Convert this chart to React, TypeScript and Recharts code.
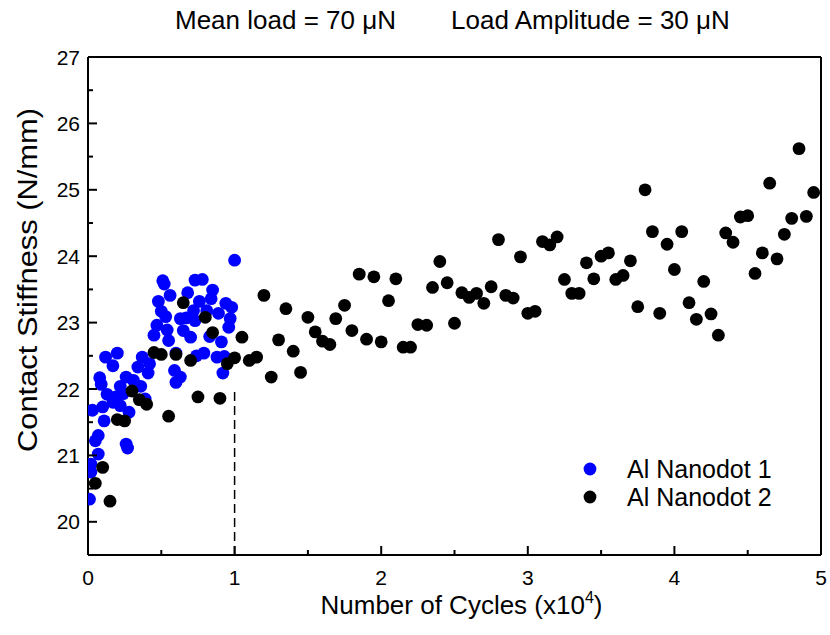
import React from 'react';
import { ScatterChart, Scatter, XAxis, YAxis, ReferenceLine, Legend, Label } from 'recharts';

// ---- Data (x in units of 10^4 cycles, y = contact stiffness N/mm) ----
const nanodot1X = [
  1.00, 0.51, 0.52, 0.73, 0.78, 0.68, 0.56, 0.85, 0.48, 0.76, 0.84, 0.50, 0.53, 0.72, 0.81, 0.89, 0.94, 0.98,
  0.97, 0.96, 0.63, 0.67, 0.73, 0.47, 0.54, 0.65, 0.45, 0.70, 0.83, 0.91, 0.55, 0.60, 0.74, 0.79, 0.88, 0.93,
  0.92, 0.59, 0.63, 0.60, 0.37, 0.42, 0.34, 0.41, 0.12, 0.20, 0.17, 0.08, 0.26, 0.31, 0.22, 0.36, 0.13, 0.19,
  0.24, 0.39, 0.17, 0.03, 0.10, 0.22, 0.28, 0.11, 0.07, 0.05, 0.26, 0.27, 0.07, 0.02, 0.02, 0.01, 0.09,
];
const nanodot1Y = [
  23.94, 23.63, 23.58, 23.64, 23.65, 23.45, 23.41, 23.49, 23.32, 23.32, 23.36, 23.17, 23.09, 23.18, 23.18, 23.14, 23.29, 23.23,
  23.06, 22.93, 23.06, 23.07, 23.03, 22.96, 22.89, 22.88, 22.81, 22.78, 22.79, 22.71, 22.73, 22.54, 22.50, 22.54, 22.48, 22.49,
  22.24, 22.28, 22.18, 22.10, 22.48, 22.38, 22.33, 22.24, 22.48, 22.54, 22.35, 22.17, 22.18, 22.13, 22.04, 22.04, 21.92, 21.88,
  21.93, 21.85, 21.80, 21.68, 21.73, 21.75, 21.65, 21.52, 21.30, 21.22, 21.17, 21.11, 21.02, 20.87, 20.75, 20.34, 22.07,
];

const nanodot2X = [
  0.05, 0.10, 0.15, 0.20, 0.25, 0.30, 0.35, 0.40, 0.45, 0.50, 0.55, 0.60, 0.65, 0.70, 0.75, 0.80, 0.85, 0.90, 0.95,
  1.00, 1.05, 1.10, 1.15, 1.20, 1.25, 1.30, 1.35, 1.40, 1.45, 1.50, 1.55, 1.60, 1.65, 1.69, 1.75, 1.80, 1.85, 1.90, 1.95,
  2.00, 2.05, 2.10, 2.15, 2.20, 2.25, 2.31, 2.35, 2.40, 2.45, 2.50, 2.55, 2.60, 2.65, 2.70, 2.75, 2.80, 2.85, 2.90, 2.95,
  3.00, 3.05, 3.10, 3.15, 3.20, 3.25, 3.30, 3.35, 3.40, 3.45, 3.50, 3.55, 3.60, 3.65, 3.70, 3.75, 3.80, 3.85, 3.90, 3.95,
  4.00, 4.05, 4.10, 4.15, 4.20, 4.25, 4.30, 4.35, 4.40, 4.45, 4.50, 4.55, 4.60, 4.65, 4.70, 4.75, 4.80, 4.85, 4.90, 4.95,
];
const nanodot2Y = [
  20.58, 20.82, 20.31, 21.54, 21.52, 21.97, 21.84, 21.77, 22.55, 22.52, 21.59, 22.52, 23.30, 22.43, 21.88, 23.08, 22.85, 21.86, 22.38,
  22.47, 22.78, 22.43, 22.48, 23.41, 22.18, 22.74, 23.21, 22.57, 22.25, 23.08, 22.86, 22.72, 22.67, 23.06, 23.26, 22.88, 23.73, 22.75, 23.69,
  22.71, 23.33, 23.66, 22.63, 22.63, 22.97, 22.96, 23.53, 23.92, 23.60, 22.99, 23.45, 23.38, 23.44, 23.29, 23.54, 24.25, 23.41, 23.37, 23.99,
  23.14, 23.17, 24.22, 24.17, 24.29, 23.65, 23.44, 23.44, 23.90, 23.66, 24.00, 24.05, 23.65, 23.71, 23.93, 23.24, 25.00, 24.37, 23.14, 24.18,
  23.80, 24.37, 23.30, 23.05, 23.62, 23.13, 22.81, 24.35, 24.21, 24.59, 24.61, 23.74, 24.05, 25.10, 23.96, 24.33, 24.57, 25.62, 24.60, 24.96,
];

const xTicks = [0, 0.5, 1, 1.5, 2, 2.5, 3, 3.5, 4, 4.5, 5];
const yTicks = [20, 20.5, 21, 21.5, 22, 22.5, 23, 23.5, 24, 24.5, 25, 25.5, 26, 26.5, 27];

const series1Name = 'Al Nanodot 1';
const series2Name = 'Al Nanodot 2';
const titleLeft = 'Mean load = 70 μN';
const titleRight = 'Load Amplitude = 30 μN';

const data1 = nanodot1X.map((x, i) => ({ x, y: nanodot1Y[i] }));
const data2 = nanodot2X.map((x, i) => ({ x, y: nanodot2Y[i] }));

const FONT = '"Liberation Sans", Arial, Helvetica, sans-serif';
const BLUE = '#0000FF';
const BLACK = '#000000';

const XTick = (props: any) => {
  const { x, y, payload } = props;
  const v = payload.value;
  const major = Number.isInteger(v);
  return (
    <g>
      <line x1={x} x2={x} y1={y} y2={y - (major ? 9 : 5)} stroke={BLACK} strokeWidth={2} />
      {major && (
        <text x={x} y={y + 30} textAnchor="middle" fontSize={21} fontFamily={FONT} fill={BLACK}>
          {v}
        </text>
      )}
    </g>
  );
};

const YTick = (props: any) => {
  const { x, y, payload } = props;
  const v = payload.value;
  const major = Number.isInteger(v);
  return (
    <g>
      <line x1={x} x2={x + (major ? 9 : 5)} y1={y} y2={y} stroke={BLACK} strokeWidth={2} />
      {major && (
        <text x={x - 8} y={y} dy="0.36em" textAnchor="end" fontSize={21} fontFamily={FONT} fill={BLACK}>
          {v}
        </text>
      )}
    </g>
  );
};

const XLabel = (props: any) => {
  const vb = props.viewBox || { x: 88, y: 555, width: 733, height: 80 };
  const cx = vb.x + vb.width / 2 + 7;
  return (
    <text x={cx} y={vb.y + 59} textAnchor="middle" fontSize={26} fontFamily={FONT} fill={BLACK}>
      Number of Cycles (x10
      <tspan dy={-11} fontSize={16}>4</tspan>
      <tspan dy={11}>)</tspan>
    </text>
  );
};

const YLabel = (props: any) => {
  const vb = props.viewBox || { x: 0, y: 57, width: 88, height: 498 };
  const cx = vb.x + 28;
  const cy = vb.y + vb.height / 2 - 26;
  return (
    <text
      x={cx}
      y={cy}
      transform={`rotate(-90, ${cx}, ${cy})`}
      textAnchor="middle"
      dominantBaseline="central"
      fontSize={27}
      textLength={344}
      lengthAdjust="spacingAndGlyphs"
      fontFamily={FONT}
      fill={BLACK}
    >
      Contact Stiffness (N/mm)
    </text>
  );
};

const BlueDot = (props: any) => <circle cx={props.cx} cy={props.cy} r={6.4} fill={BLUE} />;
const BlackDot = (props: any) => <circle cx={props.cx} cy={props.cy} r={6.4} fill={BLACK} />;

const LegendContent = (props: any) => {
  const items = props.payload || [];
  return (
    <div style={{ fontFamily: FONT }}>
      {items.map((it: any) => (
        <div key={it.value} style={{ display: 'flex', alignItems: 'center', height: 28 }}>
          <svg width={14} height={14} style={{ marginRight: 30 }}>
            <circle cx={7} cy={7} r={6.4} fill={it.color} />
          </svg>
          <span style={{ fontSize: 25, color: BLACK, whiteSpace: 'nowrap' }}>{it.value}</span>
        </div>
      ))}
    </div>
  );
};

export default function App() {
  return (
    <div style={{ position: 'fixed', left: 0, top: 0, width: 830, height: 635, fontFamily: FONT, background: '#fff', overflow: 'hidden' }}>
      <div style={{ position: 'absolute', left: 175, top: 5, fontSize: 26, whiteSpace: 'nowrap', color: BLACK }}>
        {titleLeft}
      </div>
      <div style={{ position: 'absolute', left: 451, top: 5, fontSize: 26, whiteSpace: 'nowrap', color: BLACK }}>
        {titleRight}
      </div>
      <ScatterChart width={830} height={635} margin={{ top: 57, right: 9, left: 0, bottom: 0 }}>
        <XAxis
          dataKey="x"
          type="number"
          domain={[0, 5]}
          ticks={xTicks}
          interval={0}
          allowDataOverflow
          height={80}
          tickSize={0}
          tickMargin={0}
          tickLine={false}
          axisLine={{ stroke: BLACK, strokeWidth: 2 }}
          tick={<XTick />}
        >
          <Label content={<XLabel />} />
        </XAxis>
        <YAxis
          dataKey="y"
          type="number"
          domain={[19.5, 27]}
          ticks={yTicks}
          interval={0}
          allowDataOverflow
          width={88}
          tickSize={0}
          tickMargin={0}
          tickLine={false}
          axisLine={{ stroke: BLACK, strokeWidth: 2 }}
          tick={<YTick />}
        >
          <Label content={<YLabel />} />
        </YAxis>
        <ReferenceLine y={27} stroke={BLACK} strokeWidth={2} />
        <ReferenceLine x={5} stroke={BLACK} strokeWidth={2} />
        <ReferenceLine
          segment={[{ x: 1, y: 19.5 }, { x: 1, y: 22 }]}
          stroke={BLACK}
          strokeWidth={1.5}
          strokeDasharray="9 5"
        />
        <Scatter name={series1Name} data={data1} fill={BLUE} shape={<BlueDot />} isAnimationActive={false} />
        <Scatter name={series2Name} data={data2} fill={BLACK} shape={<BlackDot />} isAnimationActive={false} />
        <Legend
          layout="vertical"
          align="center"
          verticalAlign="middle"
          wrapperStyle={{ left: 583, top: 455, width: 240 }}
          content={<LegendContent />}
        />
      </ScatterChart>
    </div>
  );
}
